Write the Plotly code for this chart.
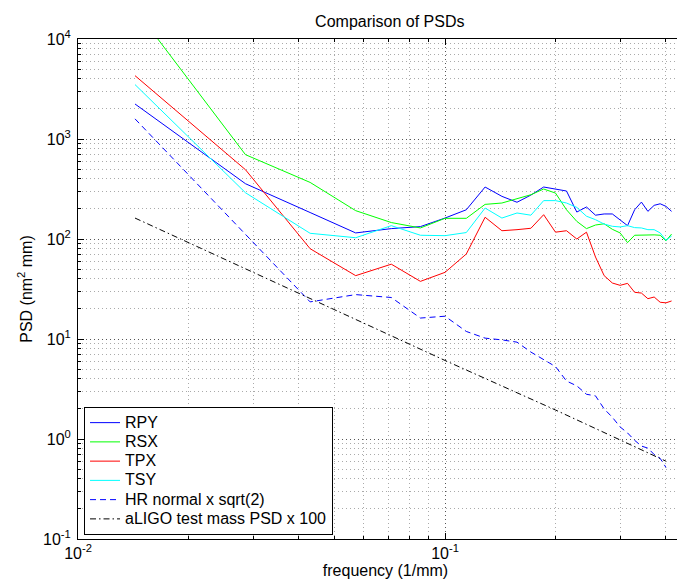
import plotly.graph_objects as go

# ---------------- data ----------------
freq = [0.0143, 0.0286, 0.0429, 0.0571, 0.0714, 0.0857, 0.1000, 0.1143,
        0.1286, 0.1429, 0.1571, 0.1714, 0.1857, 0.2000, 0.2143, 0.2286,
        0.2429, 0.2571, 0.2714, 0.2857, 0.3000, 0.3143, 0.3286, 0.3429,
        0.3571, 0.3714, 0.3857, 0.4000, 0.4143]

rpy = [2240, 357, 184, 115, 127, 133, 162, 196, 331, 267, 233, 275, 331, 318,
       302, 186, 209, 173, 178, 178, 156, 136, 196, 234, 189, 217, 225, 212, 189]

rsx = [20000, 697, 368, 192, 146, 129, 161, 161, 222, 229, 253, 277, 316, 288,
       196, 150, 127, 138, 142, 125, 115, 92, 109, 110, 110, 110, 109, 96, 112]

tpx = [4300, 493, 80, 43, 56, 37.7, 46.4, 70.8, 165, 121, 124, 128, 175, 117,
       121, 100, 117, 66, 43, 36.3, 34.4, 36, 29.3, 28.8, 25.3, 26.3, 23.3, 23, 24]

tsy = [3500, 290, 114, 103, 136, 109, 108, 116, 204, 162, 182, 173, 242, 242,
       229, 207, 169, 156, 141, 134, 132, 136, 130, 129, 124, 124, 115, 97, 107]

hr_freq = freq[:28]
hr_normal = [1590, 113, 23.5, 27.8, 26, 16.2, 16.9, 11.9, 10.2, 9.8, 9.3, 7.4,
             6.2, 5.3, 3.8, 3.4, 2.8, 2.7, 2.0, 1.65, 1.32, 1.15, 0.97, 0.85,
             0.81, 0.70, 0.64, 0.52]

aligo_freq = [0.0143, 0.0286, 0.0571, 0.1000, 0.2000, 0.4000]
aligo = [162, 50.5, 15.5, 6.1, 1.95, 0.6]

x_tickvals = [0.01, 0.1]
x_ticktext = ["10<sup>-2</sup>", "10<sup>-1</sup>"]
y_tickvals = [0.1, 1, 10, 100, 1000, 10000]
y_ticktext = ["10<sup>-1</sup>", "10<sup>0</sup>", "10<sup>1</sup>",
              "10<sup>2</sup>", "10<sup>3</sup>", "10<sup>4</sup>"]

minor_x = [m * 10.0 ** e for e in (-2, -1) for m in range(2, 10)]
minor_y = [m * 10.0 ** e for e in range(-1, 4) for m in range(2, 10)]

FONT = "Liberation Sans, Arial, Helvetica, sans-serif"


def nm(s):
    return "<span style='font-size:16px'>" + s + "</span>"


fig = go.Figure()
fig.add_trace(go.Scatter(x=freq, y=rpy, mode="lines", name=nm("RPY"),
                         line=dict(color="#0000FF", width=1)))
fig.add_trace(go.Scatter(x=freq, y=rsx, mode="lines", name=nm("RSX"),
                         line=dict(color="#00FF00", width=1)))
fig.add_trace(go.Scatter(x=freq, y=tpx, mode="lines", name=nm("TPX"),
                         line=dict(color="#FF0000", width=1)))
fig.add_trace(go.Scatter(x=freq, y=tsy, mode="lines", name=nm("TSY"),
                         line=dict(color="#00FFFF", width=1)))
fig.add_trace(go.Scatter(x=hr_freq, y=hr_normal, mode="lines",
                         name=nm("HR normal x sqrt(2)"),
                         line=dict(color="#0000FF", width=1, dash="6px,4px")))
fig.add_trace(go.Scatter(x=aligo_freq, y=aligo, mode="lines",
                         name=nm("aLIGO test mass PSD x 100"),
                         line=dict(color="#000000", width=1,
                                   dash="6px,3px,1.5px,3px")))

axis_common = dict(
    type="log", showline=True, linecolor="black", linewidth=1,
    ticks="inside", ticklen=6, tickcolor="black", tickwidth=1,
    showgrid=True, gridcolor="#555555", gridwidth=1, griddash="1px,3px",
    zeroline=False, tickfont=dict(size=16, color="black", family=FONT),
)

fig.update_xaxes(
    **axis_common, mirror="ticks", range=[-2, -0.3243],
    tickmode="array", tickvals=x_tickvals, ticktext=x_ticktext,
    minor=dict(tickmode="array", tickvals=minor_x, ticks="inside", ticklen=3,
               tickcolor="black", showgrid=True, gridcolor="#aaaaaa",
               griddash="1px,3px", gridwidth=1),
    title=dict(text="frequency (1/mm)", standoff=2,
               font=dict(size=16, color="black", family=FONT)),
)
fig.update_yaxes(
    **axis_common, mirror=False, range=[-1, 4],
    tickmode="array", tickvals=y_tickvals, ticktext=y_ticktext,
    ticklabelstandoff=3,
    minor=dict(tickmode="array", tickvals=minor_y, ticks="inside", ticklen=3,
               tickcolor="black", showgrid=True, gridcolor="#aaaaaa",
               griddash="1px,3px", gridwidth=1),
    title=dict(text="PSD (nm<sup>2</sup> mm)", standoff=6,
               font=dict(size=16, color="black", family=FONT)),
)

fig.update_layout(
    width=685, height=580,
    margin=dict(l=70, r=0, t=31, b=49, pad=0),
    paper_bgcolor="white", plot_bgcolor="white",
    font=dict(family=FONT, size=16, color="black"),
    title=dict(text="Comparison of PSDs", x=0.507, xanchor="center",
               xref="paper", y=1 - 13 / 580, yanchor="middle",
               yref="container",
               font=dict(size=16, color="black", family=FONT)),
    showlegend=True,
    legend=dict(x=0.0098, xanchor="left", y=0.008, yanchor="bottom",
                bgcolor="white", bordercolor="black", borderwidth=1,
                font=dict(size=12.5, color="black", family=FONT),
                itemwidth=30, tracegroupgap=0),
)

fig.write_html("out.html")
